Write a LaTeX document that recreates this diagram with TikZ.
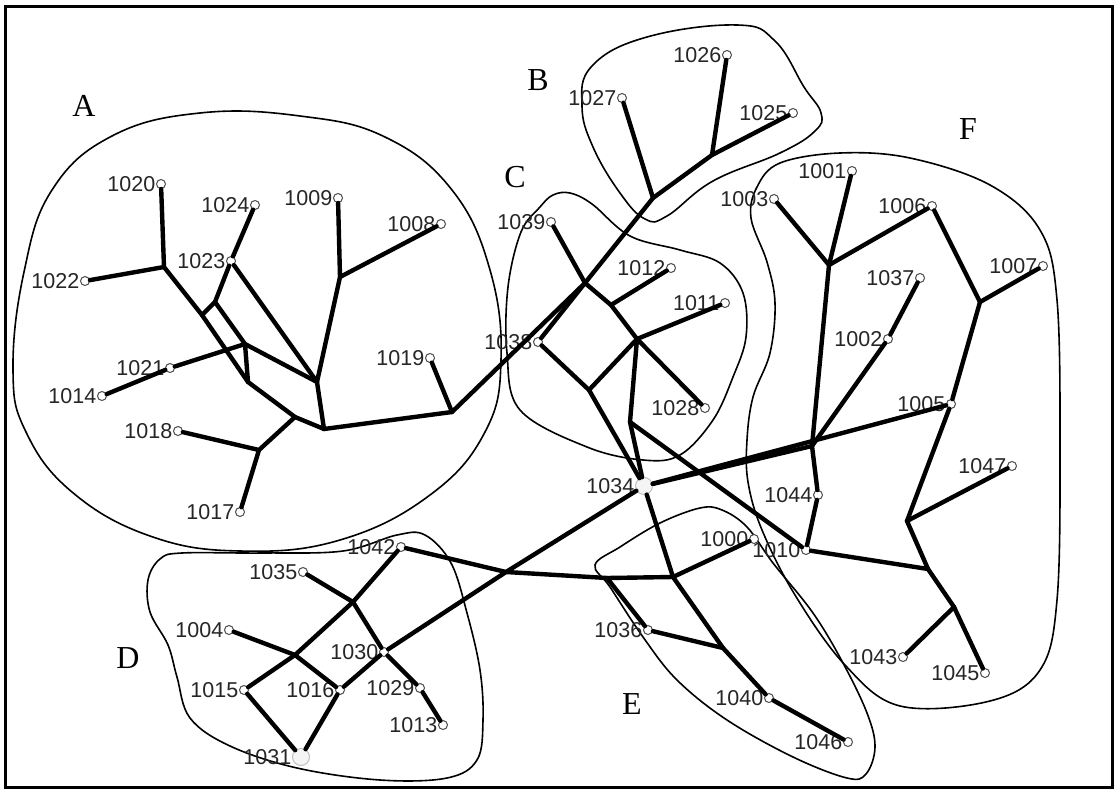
\documentclass[tikz,border=0pt]{standalone}
\usepackage{fontspec}
\setmainfont{Liberation Serif}
\newfontfamily\idfont{Liberation Sans}
\usepackage{tikz}
\usetikzlibrary{shapes.geometric, positioning}
\tikzstyle{site} = [circle, draw=gray!60!black, line width=1pt, fill=white, inner sep=0pt, minimum size=9pt]
\tikzstyle{hubsite} = [circle, draw=gray!50, line width=1pt, fill=gray!8, inner sep=0pt, minimum size=17pt]
\tikzstyle{idtag} = [font=\idfont\fontsize{21.5}{21.5}\selectfont, text=gray!30!black, inner sep=0.5pt]
\tikzstyle{cable} = [line width=4.4pt, line cap=round, line join=round]
\tikzstyle{zone} = [line width=1.6pt]
\tikzstyle{zonename} = [font=\fontsize{32}{32}\selectfont]

\begin{document}
\begin{tikzpicture}[x=1pt, y=-1pt]
            \useasboundingbox (0,0) rectangle (1119,792);
            \draw [line width=3pt] (5.5,6.5) rectangle (1112,787);

            % Zones
            \draw [zone] plot [smooth cycle, tension=0.7] coordinates {(13,370) (24,272) (52,190) (112,136) (200,113) (300,116) (385,137) (452,190) (490,270) (501,360) (485,432) (430,495) (340,540) (240,551) (150,536) (72,492) (26,432)};
            \draw [zone] plot [smooth cycle, tension=0.7] coordinates {(582,106) (592,66) (647,37) (737,25) (775,41) (804,87) (821,113) (815,131) (780,153) (713,181) (667,216) (645,219) (620,193) (593,147)};
            \draw [zone] plot [smooth cycle, tension=0.6] coordinates {(553,195) (570,193) (592,204) (630,236) (680,250) (720,263) (743,293) (746,337) (733,377) (713,420) (680,455) (643,460) (587,447) (520,410) (507,353) (508,287) (521,232) (540,207)};
            \draw [zone] plot [smooth cycle, tension=0.6] coordinates {(751,218) (767,262) (775,303) (770,353) (753,397) (747,440) (748,482) (762,530) (795,595) (845,665) (900,706) (990,701) (1040,670) (1057,600) (1060,450) (1057,300) (1040,230) (990,185) (910,158) (840,153) (780,163) (757,187)};
            \draw [zone] plot [smooth cycle, tension=0.6] coordinates {(595,565) (620,547) (660,523) (700,508) (722,510) (747,527) (773,563) (813,613) (843,663) (867,713) (875,747) (866,774) (847,778) (793,757) (727,720) (677,680) (643,637) (610,587)};
            \draw [zone] plot [smooth cycle, tension=0.6] coordinates {(160,559) (182,553) (263,553) (343,551) (397,535) (425,535) (451,563) (467,613) (480,670) (483,720) (477,760) (447,778) (380,780) (297,768) (230,746) (190,718) (177,677) (168,645) (150,612) (148,580)};

            \node (zA) [zonename] at (84,106) {A};
            \node (zB) [zonename] at (538,80) {B};
            \node (zC) [zonename] at (515,177) {C};
            \node (zD) [zonename] at (128,658) {D};
            \node (zE) [zonename] at (632,704) {E};
            \node (zF) [zonename] at (968,129) {F};

            % Nodes
            \node (n1020) [site, label={[idtag]left:1020}] at (161,184) {};
            \node (n1024) [site, label={[idtag]left:1024}] at (255,205) {};
            \node (n1009) [site, label={[idtag]left:1009}] at (338,198) {};
            \node (n1008) [site, label={[idtag]left:1008}] at (441,224) {};
            \node (n1023) [site, label={[idtag]left:1023}] at (231,261) {};
            \node (n1022) [site, label={[idtag]left:1022}] at (85,281) {};
            \node (n1021) [site, label={[idtag]left:1021}] at (170,368) {};
            \node (n1014) [site, label={[idtag]left:1014}] at (102,396) {};
            \node (n1019) [site, label={[idtag]left:1019}] at (430,358) {};
            \node (n1018) [site, label={[idtag]left:1018}] at (178,431) {};
            \node (n1017) [site, label={[idtag]left:1017}] at (240,512) {};
            \node (n1026) [site, label={[idtag]left:1026}] at (727,55) {};
            \node (n1027) [site, label={[idtag]left:1027}] at (622,98) {};
            \node (n1025) [site, label={[idtag]left:1025}] at (793,113) {};
            \node (n1039) [site, label={[idtag]left:1039}] at (551,222) {};
            \node (n1012) [site, label={[idtag]left:1012}] at (671,268) {};
            \node (n1011) [site, label={[idtag]left:1011}] at (725,303) {};
            \node (n1038) [site, label={[idtag]left:1038}] at (538,342) {};
            \node (n1028) [site, label={[idtag]left:1028}] at (705,408) {};
            \node (n1034) [hubsite, label={[idtag]left:1034}] at (644,486) {};
            \node (n1001) [site, label={[idtag]left:1001}] at (852,171) {};
            \node (n1003) [site, label={[idtag]left:1003}] at (774,199) {};
            \node (n1006) [site, label={[idtag]left:1006}] at (932,206) {};
            \node (n1037) [site, label={[idtag]left:1037}] at (920,278) {};
            \node (n1007) [site, label={[idtag]left:1007}] at (1043,266) {};
            \node (n1002) [site, label={[idtag]left:1002}] at (888,339) {};
            \node (n1005) [site, label={[idtag]left:1005}] at (951,404) {};
            \node (n1047) [site, label={[idtag]left:1047}] at (1012,466) {};
            \node (n1044) [site, label={[idtag]left:1044}] at (818,495) {};
            \node (n1010) [site, label={[idtag]left:1010}] at (806,550) {};
            \node (n1000) [site, label={[idtag]left:1000}] at (754,539) {};
            \node (n1043) [site, label={[idtag]left:1043}] at (903,657) {};
            \node (n1045) [site, label={[idtag]left:1045}] at (985,673) {};
            \node (n1042) [site, label={[idtag]left:1042}] at (401,547) {};
            \node (n1035) [site, label={[idtag]left:1035}] at (303,572) {};
            \node (n1004) [site, label={[idtag]left:1004}] at (229,630) {};
            \node (n1030) [site, label={[idtag]left:1030}] at (384,652) {};
            \node (n1015) [site, label={[idtag]left:1015}] at (244,690) {};
            \node (n1016) [site, label={[idtag]left:1016}] at (340,690) {};
            \node (n1029) [site, label={[idtag]left:1029}] at (420,688) {};
            \node (n1013) [site, label={[idtag]left:1013}] at (443,725) {};
            \node (n1031) [hubsite, label={[idtag]left:1031}] at (301,757) {};
            \node (n1036) [site, label={[idtag]left:1036}] at (648,630) {};
            \node (n1040) [site, label={[idtag]left:1040}] at (769,698) {};
            \node (n1046) [site, label={[idtag]left:1046}] at (848,742) {};

            % Junctions
            \coordinate (jA1) at (164,267);
            \coordinate (jA3) at (324,429);
            \coordinate (jA4) at (215,302);
            \coordinate (jA5) at (202,315);
            \coordinate (jA6) at (245,344);
            \coordinate (jA7) at (248,382);
            \coordinate (jA8) at (317,382);
            \coordinate (jA9) at (340,277);
            \coordinate (jA10) at (452,412);
            \coordinate (jA11) at (259,450);
            \coordinate (jA12) at (295,417);
            \coordinate (jB1) at (712,155);
            \coordinate (jB2) at (653,198);
            \coordinate (jC1) at (585,283);
            \coordinate (jC2) at (611,305);
            \coordinate (jC3) at (637,339);
            \coordinate (jC4) at (589,390);
            \coordinate (jC5) at (630,422);
            \coordinate (jF1) at (829,265);
            \coordinate (jF2) at (812,446);
            \coordinate (jF3) at (980,302);
            \coordinate (jF4) at (907,521);
            \coordinate (jF5) at (928,569);
            \coordinate (jF6) at (954,607);
            \coordinate (jX) at (506,572);
            \coordinate (jE3) at (607,578);
            \coordinate (jE1) at (673,577);
            \coordinate (jE2) at (723,648);
            \coordinate (jD1) at (353,602);
            \coordinate (jD2) at (295,655);

            % Edges
            \draw [cable] (n1020) -- (jA1) -- (n1022);
            \draw [cable] (jA1) -- (jA5) -- (jA7) -- (jA12) -- (jA3);
            \draw [cable] (n1024) -- (n1023) -- (jA4) -- (jA5);
            \draw [cable] (jA4) -- (jA6) -- (jA8);
            \draw [cable] (n1014) -- (n1021) -- (jA6) -- (jA7);
            \draw [cable] (n1023) -- (jA8);
            \draw [cable] (n1009) -- (jA9) -- (jA8) -- (jA3) -- (jA10) -- (jC1);
            \draw [cable] (jA9) -- (n1008);
            \draw [cable] (n1019) -- (jA10);
            \draw [cable] (n1018) -- (jA11) -- (jA12);
            \draw [cable] (n1017) -- (jA11);
            \draw [cable] (n1026) -- (jB1);
            \draw [cable] (n1025) -- (jB1) -- (jB2) -- (jC1) -- (n1038);
            \draw [cable] (n1027) -- (jB2);
            \draw [cable] (n1039) -- (jC1) -- (jC2) -- (jC3) -- (n1028);
            \draw [cable] (n1012) -- (jC2);
            \draw [cable] (n1011) -- (jC3);
            \draw [cable] (n1038) -- (jC4) -- (n1034);
            \draw [cable] (jC4) -- (jC3) -- (jC5) -- (n1034);
            \draw [cable] (jC5) -- (n1010);
            \draw [cable] (n1003) -- (jF1) -- (n1001);
            \draw [cable] (jF1) -- (n1006) -- (jF3) -- (n1007);
            \draw [cable] (jF1) -- (jF2) -- (n1044) -- (n1010);
            \draw [cable] (n1037) -- (n1002) -- (jF2);
            \draw [cable] (n1034) -- (jF2);
            \draw [cable] (n1034) -- (n1005);
            \draw [cable] (jF3) -- (n1005) -- (jF4) -- (jF5) -- (jF6) -- (n1045);
            \draw [cable] (jF4) -- (n1047);
            \draw [cable] (n1010) -- (jF5);
            \draw [cable] (jF6) -- (n1043);
            \draw [cable] (n1034) -- (jX) -- (n1030);
            \draw [cable] (n1042) -- (jX) -- (jE3) -- (jE1) -- (n1000);
            \draw [cable] (n1034) -- (jE1) -- (jE2) -- (n1040) -- (n1046);
            \draw [cable] (jE3) -- (n1036) -- (jE2);
            \draw [cable] (n1042) -- (jD1) -- (jD2) -- (n1015) -- (n1031) -- (n1016) -- (n1030);
            \draw [cable] (n1035) -- (jD1) -- (n1030) -- (n1029) -- (n1013);
            \draw [cable] (n1004) -- (jD2) -- (n1016);
\end{tikzpicture}
\end{document}
